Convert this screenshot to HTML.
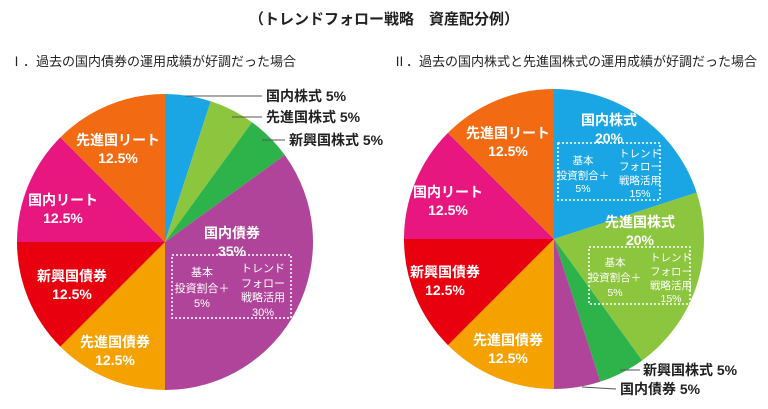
<!DOCTYPE html>
<html><head><meta charset="utf-8">
<style>
body{margin:0;background:#fff;}
svg text{font-family:"Liberation Sans","Noto Sans CJK JP",sans-serif;}
</style></head>
<body>
<svg id="c" width="768" height="404" viewBox="0 0 768 404" xmlns="http://www.w3.org/2000/svg">
<text x="384" y="24" text-anchor="middle" font-size="15" font-weight="bold" fill="#222">（トレンドフォロー戦略　資産配分例）</text>
<text x="10" y="66" font-size="13" fill="#222">Ⅰ．過去の国内債券の運用成績が好調だった場合</text>
<text x="393" y="66" font-size="13" fill="#222">Ⅱ．過去の国内株式と先進国株式の運用成績が好調だった場合</text>
<g id="p1"></g>
<g id="p2"></g>
<g id="lbl"></g>
</svg>
<script>
const categories = ["国内株式","先進国株式","新興国株式","国内債券","先進国債券","新興国債券","国内リート","先進国リート"];
const pie1Values = [5,5,5,35,12.5,12.5,12.5,12.5];
const pie2Values = [20,20,5,5,12.5,12.5,12.5,12.5];
const colors = ["#1aa6e4","#8cc63f","#2db34a","#b0449a","#f5a100","#e8000e","#e8177f","#f26a12"];
const NS="http://www.w3.org/2000/svg";
function drawPie(gid,vals,cx,cy,r,name){
  const g=document.getElementById(gid);
  const tot=vals.reduce((a,b)=>a+b,0);
  let a0=0;
  vals.forEach((v,i)=>{
    const a1=a0+v/tot*2*Math.PI;
    const x0=cx+r*Math.sin(a0),y0=cy-r*Math.cos(a0),x1=cx+r*Math.sin(a1),y1=cy-r*Math.cos(a1);
    const p=document.createElementNS(NS,"path");
    p.setAttribute("d",`M${cx},${cy}L${x0},${y0}A${r},${r} 0 ${a1-a0>Math.PI?1:0} 1 ${x1},${y1}Z`);
    p.setAttribute("fill",colors[i]);
    
    
    g.appendChild(p);
    a0=a1;
  });
}
drawPie("p1",pie1Values,165,242,148,"pie1");
drawPie("p2",pie2Values,554,239,150,"pie2");
const L=document.getElementById("lbl");
function t(x,y,s,opt){
  opt=opt||{};
  const e=document.createElementNS(NS,"text");
  e.setAttribute("x",x);e.setAttribute("y",y);
  e.setAttribute("font-size",opt.fs||14);
  e.setAttribute("fill",opt.fill||"#fff");
  e.setAttribute("text-anchor",opt.anchor||"middle");
  if(opt.bold!==0)e.setAttribute("font-weight","bold");
  e.textContent=s;
  
  
  L.appendChild(e);
}
function ln(x1,y1,x2,y2){
  const e=document.createElementNS(NS,"line");
  e.setAttribute("x1",x1);e.setAttribute("y1",y1);e.setAttribute("x2",x2);e.setAttribute("y2",y2);
  e.setAttribute("stroke","#555");e.setAttribute("stroke-width","1");
  
  
  L.appendChild(e);
}
function box(x,y,w,h){
  const e=document.createElementNS(NS,"rect");
  e.setAttribute("x",x);e.setAttribute("y",y);e.setAttribute("width",w);e.setAttribute("height",h);
  e.setAttribute("fill","none");e.setAttribute("stroke","#fff");e.setAttribute("stroke-width","1.5");e.setAttribute("stroke-dasharray","2,2");
  
  
  L.appendChild(e);
}
function pair(x,y,a,b){t(x,y,a);t(x,y+18,b);}
pair(118,145,"先進国リート","12.5%");
pair(63,205,"国内リート","12.5%");
pair(72,281,"新興国債券","12.5%");
pair(115,347,"先進国債券","12.5%");
pair(232,238,"国内債券","35%");
box(172,255,119,63);
[["基本",272],["投資割合＋",288],["5%",303]].forEach(d=>t(202,d[1]+4,d[0],{fs:11,bold:0}));
[["トレンド",268],["フォロー",283],["戦略活用",297],["30%",312]].forEach(d=>t(263,d[1]+4,d[0],{fs:11,bold:0}));
ln(185,96,262,96);ln(232,117,262,117);ln(262,140,285,140);
t(266,101,"国内株式 5%",{fill:"#222",anchor:"start"});
t(266,122,"先進国株式 5%",{fill:"#222",anchor:"start"});
t(289,145,"新興国株式 5%",{fill:"#222",anchor:"start"});
pair(609,125,"国内株式","20%");
box(558,143,102,57);
[["基本",160],["投資割合＋",175],["5%",188]].forEach(d=>t(583,d[1]+4,d[0],{fs:10.5,bold:0}));
[["トレンド",153],["フォロー",166],["戦略活用",180],["15%",193]].forEach(d=>t(640,d[1]+4,d[0],{fs:10.5,bold:0}));
pair(640,227,"先進国株式","20%");
box(589,247,101,57);
[["基本",262],["投資割合＋",277],["5%",292]].forEach(d=>t(615,d[1]+4,d[0],{fs:10.5,bold:0}));
[["トレンド",257],["フォロー",271],["戦略活用",285],["15%",298]].forEach(d=>t(671,d[1]+4,d[0],{fs:10.5,bold:0}));
pair(508,138,"先進国リート","12.5%");
pair(448,197,"国内リート","12.5%");
pair(445,277,"新興国債券","12.5%");
pair(508,345,"先進国債券","12.5%");
ln(620,370,640,370);ln(582,387,616,389);
t(643,375,"新興国株式 5%",{fill:"#222",anchor:"start"});
t(620,394,"国内債券 5%",{fill:"#222",anchor:"start"});
</script>
</body></html>
